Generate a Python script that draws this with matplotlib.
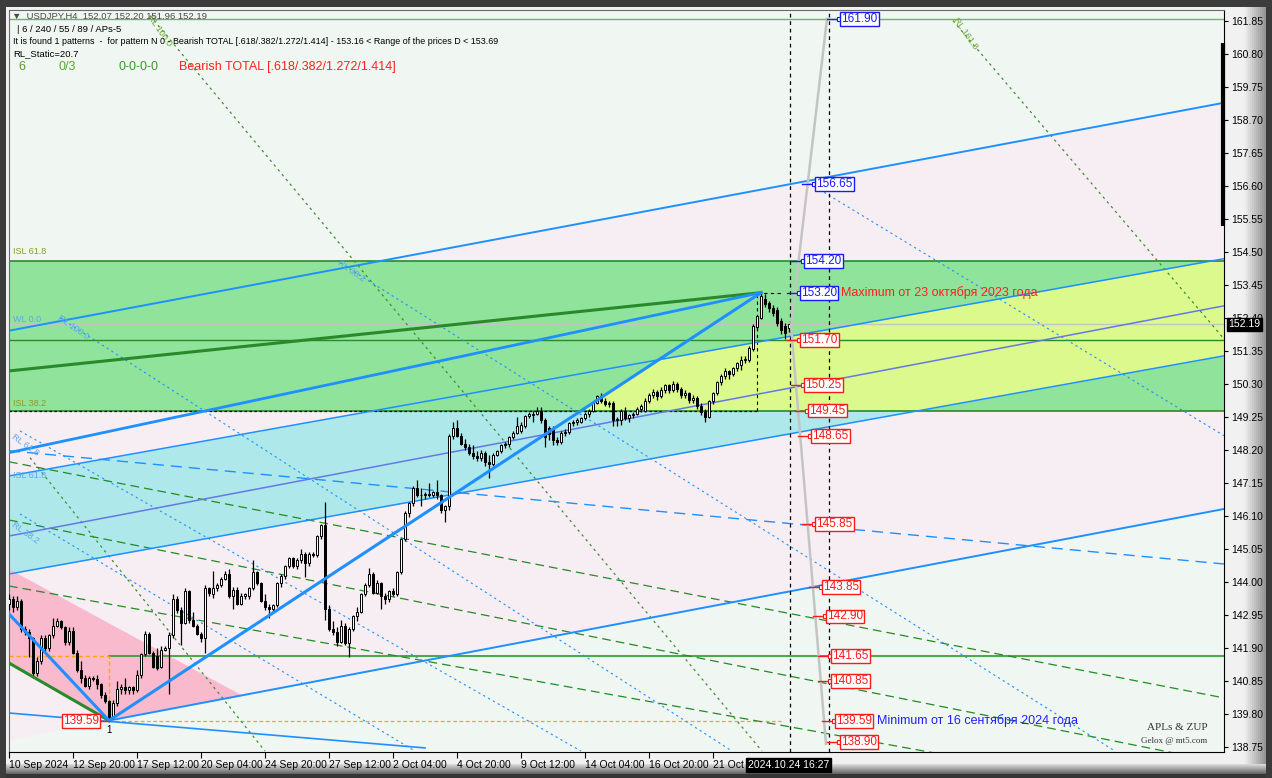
import numpy as np
import matplotlib
matplotlib.use("Agg")
import matplotlib.pyplot as plt
from matplotlib.patches import Rectangle, Polygon

plt.rcParams['font.family'] = ['Liberation Sans', 'DejaVu Sans']

W, H = 1272, 778

# USDJPY H4 candles, bar 1 = 10 Sep 2024 04:00 ... bar 196 = 24 Oct 2024 16:00
opens = [143.30, 143.45, 143.20, 143.40, 142.50, 142.40, 142.20, 141.10, 141.50, 142.20,
         141.90, 142.30, 142.60, 142.75, 142.55, 142.10, 142.45, 141.75, 141.20, 140.95,
         140.70, 140.95, 140.90, 140.75, 140.40, 140.20, 139.70, 140.15, 140.60, 140.65,
         140.55, 140.65, 140.55, 141.05, 141.70, 142.35, 141.75, 141.65, 141.30, 141.85,
         141.90, 142.30, 143.45, 143.10, 142.70, 143.70, 142.80, 142.60, 142.35, 142.20,
         143.80, 143.60, 143.80, 143.90, 144.10, 144.25, 143.55, 143.75, 143.30, 143.55,
         143.55, 143.80, 144.30, 143.95, 143.40, 143.20, 143.15, 143.25, 143.95, 144.20,
         144.50, 144.75, 144.50, 144.70, 144.90, 144.60, 144.90, 144.85, 145.45, 145.80,
         143.15, 142.50, 142.40, 142.10, 142.60, 142.05, 142.50, 142.90, 143.05, 143.60,
         143.90, 144.25, 143.65, 143.95, 143.55, 143.45, 143.70, 143.60, 144.30, 145.35,
         146.20, 146.50, 147.00, 146.75, 146.75, 146.80, 146.75, 146.85, 146.75, 146.30,
         146.40, 148.65, 148.90, 148.65, 148.40, 148.30, 148.10, 148.00, 147.95, 148.10,
         147.80, 147.75, 148.05, 148.15, 148.35, 148.38, 148.60, 148.75, 148.80, 148.95,
         149.28, 149.30, 149.35, 149.45, 149.15, 148.90, 148.90, 148.50, 148.45, 148.75,
         148.78, 149.05, 149.10, 149.10, 149.20, 149.35, 149.45, 149.70, 149.90, 149.75,
         149.65, 149.70, 149.15, 149.15, 149.45, 149.20, 149.30, 149.35, 149.50, 149.45,
         149.75, 149.95, 150.05, 149.90, 150.10, 150.25, 150.10, 150.30, 150.15, 149.95,
         150.00, 149.80, 149.85, 149.60, 149.40, 149.25, 149.75, 150.00, 150.35, 150.55,
         150.70, 150.60, 150.80, 150.90, 151.05, 151.05, 151.42, 152.10, 152.40, 153.00,
         152.88, 152.72, 152.65, 152.30, 152.15, 152.07]
highs = [143.60, 143.55, 143.55, 143.45, 142.60, 142.50, 142.25, 141.60, 142.30, 142.30,
         142.35, 142.85, 142.85, 142.80, 142.60, 142.55, 142.55, 141.85, 141.50, 141.05,
         141.00, 141.00, 141.05, 140.80, 140.50, 140.25, 140.25, 140.85, 140.75, 140.95,
         140.70, 140.70, 141.20, 141.75, 142.45, 142.40, 141.80, 141.90, 141.95, 141.95,
         142.40, 143.60, 143.55, 143.20, 143.80, 143.75, 143.05, 142.65, 142.40, 143.90,
         143.85, 144.35, 143.95, 144.15, 144.35, 144.40, 143.85, 143.85, 143.65, 143.65,
         143.85, 144.70, 144.35, 144.00, 143.60, 143.30, 143.30, 144.00, 144.25, 144.55,
         144.80, 144.80, 144.75, 145.05, 144.95, 144.95, 144.95, 145.50, 145.85, 146.55,
         143.25, 142.75, 142.55, 142.80, 142.70, 142.55, 142.95, 143.20, 143.65, 143.95,
         144.45, 144.30, 144.05, 144.00, 143.65, 143.75, 143.80, 144.35, 145.40, 146.25,
         146.55, 147.05, 147.25, 147.00, 146.85, 147.15, 146.90, 147.25, 146.80, 146.45,
         148.70, 149.10, 149.15, 148.75, 148.55, 148.40, 148.35, 148.15, 148.20, 148.15,
         148.05, 148.10, 148.20, 148.40, 148.45, 148.65, 148.80, 149.25, 149.10, 149.30,
         149.40, 149.45, 149.55, 149.55, 149.20, 148.95, 148.95, 148.60, 148.80, 148.85,
         149.10, 149.15, 149.20, 149.25, 149.40, 149.50, 149.75, 149.95, 150.00, 149.85,
         149.75, 149.75, 149.25, 149.50, 149.55, 149.35, 149.40, 149.55, 149.65, 149.85,
         150.00, 150.15, 150.10, 150.20, 150.30, 150.30, 150.40, 150.35, 150.20, 150.10,
         150.05, 149.95, 149.90, 149.70, 149.50, 149.80, 150.05, 150.40, 150.60, 150.80,
         150.75, 150.85, 151.00, 151.20, 151.20, 151.50, 152.20, 152.50, 153.20, 153.15,
         152.95, 152.80, 152.75, 152.40, 152.25, 152.20]
lows = [143.10, 143.05, 143.10, 142.40, 142.30, 141.60, 140.95, 141.00, 141.40, 141.80,
        141.80, 142.20, 142.55, 142.50, 142.00, 142.00, 141.70, 141.15, 140.80, 140.65,
        140.60, 140.85, 140.60, 140.30, 140.15, 139.59, 139.65, 140.05, 140.45, 140.45,
        140.45, 140.45, 140.50, 140.95, 141.65, 141.70, 141.25, 141.20, 141.25, 141.80,
        140.45, 142.20, 143.00, 142.00, 142.65, 142.70, 142.55, 142.30, 142.10, 141.75,
        143.55, 143.50, 143.70, 143.85, 144.05, 143.50, 143.15, 143.25, 143.25, 143.45,
        143.45, 143.75, 143.90, 143.35, 143.10, 142.85, 143.05, 143.20, 143.85, 144.10,
        144.45, 144.45, 144.40, 144.60, 144.15, 144.50, 144.80, 144.80, 145.35, 142.80,
        142.45, 142.30, 141.95, 142.05, 142.00, 141.60, 142.45, 142.75, 143.00, 143.55,
        143.85, 143.60, 143.60, 143.15, 143.30, 143.35, 143.55, 143.55, 144.25, 145.30,
        146.05, 146.40, 146.70, 146.40, 146.65, 146.70, 146.70, 146.65, 146.20, 145.90,
        146.30, 148.55, 148.60, 148.35, 148.20, 148.05, 147.90, 147.85, 147.85, 147.70,
        147.30, 147.70, 148.00, 148.10, 148.25, 148.30, 148.55, 148.70, 148.75, 148.90,
        149.20, 149.10, 149.30, 149.05, 148.30, 148.50, 148.35, 148.35, 148.40, 148.65,
        148.70, 148.95, 149.00, 149.05, 149.15, 149.25, 149.40, 149.65, 149.70, 149.60,
        149.55, 148.95, 148.95, 149.00, 149.15, 149.10, 149.20, 149.30, 149.40, 149.40,
        149.70, 149.85, 149.80, 149.85, 150.00, 150.00, 150.05, 150.05, 149.85, 149.85,
        149.70, 149.70, 149.50, 149.30, 149.10, 149.20, 149.65, 149.95, 150.25, 150.45,
        150.45, 150.55, 150.70, 150.75, 150.95, 151.00, 151.35, 152.00, 152.35, 152.75,
        152.60, 152.45, 152.15, 151.90, 151.73, 151.96]
closes = [143.45, 143.20, 143.40, 142.50, 142.40, 142.20, 141.10, 141.50, 142.20, 141.90,
          142.30, 142.60, 142.75, 142.55, 142.10, 142.45, 141.75, 141.20, 140.95, 140.70,
          140.95, 140.90, 140.75, 140.40, 140.20, 139.70, 140.15, 140.60, 140.65, 140.55,
          140.65, 140.55, 141.05, 141.70, 142.35, 141.75, 141.30, 141.25, 141.85, 141.90,
          142.30, 143.45, 143.10, 142.70, 143.70, 142.80, 142.60, 142.35, 142.20, 143.80,
          143.65, 143.80, 143.90, 144.10, 144.25, 143.55, 143.75, 143.30, 143.55, 143.60,
          143.80, 144.30, 143.95, 143.40, 143.20, 143.15, 143.25, 143.95, 144.20, 144.50,
          144.75, 144.50, 144.70, 144.90, 144.60, 144.90, 144.85, 145.45, 145.80, 143.15,
          142.50, 142.40, 142.10, 142.60, 142.05, 142.50, 142.90, 143.05, 143.60, 143.90,
          144.25, 143.65, 143.95, 143.55, 143.45, 143.70, 143.60, 144.30, 145.35, 146.20,
          146.50, 147.00, 146.75, 146.75, 146.80, 146.75, 146.85, 146.75, 146.30, 146.40,
          148.65, 148.90, 148.65, 148.40, 148.30, 148.10, 148.00, 147.95, 148.10, 147.80,
          147.75, 148.05, 148.15, 148.35, 148.38, 148.60, 148.75, 148.95, 149.00, 149.28,
          149.35, 149.35, 149.45, 149.15, 148.60, 148.70, 148.50, 148.45, 148.75, 148.78,
          149.05, 149.10, 149.15, 149.20, 149.35, 149.45, 149.70, 149.90, 149.75, 149.65,
          149.70, 149.15, 149.18, 149.45, 149.20, 149.30, 149.35, 149.50, 149.60, 149.75,
          149.95, 150.05, 149.90, 150.10, 150.25, 150.10, 150.30, 150.15, 149.95, 150.00,
          149.80, 149.85, 149.60, 149.40, 149.25, 149.75, 150.00, 150.35, 150.55, 150.70,
          150.60, 150.80, 150.95, 151.05, 151.10, 151.45, 152.15, 152.45, 153.10, 152.85,
          152.70, 152.55, 152.25, 152.00, 151.92, 152.19]

date_ticks = [1, 17, 33, 49, 65, 81, 97, 113, 129, 145, 161, 177]
date_labels = ["10 Sep 2024", "12 Sep 20:00", "17 Sep 12:00", "20 Sep 04:00",
               "24 Sep 20:00", "27 Sep 12:00", "2 Oct 04:00", "4 Oct 20:00",
               "9 Oct 12:00", "14 Oct 04:00", "16 Oct 20:00", "21 Oct 12:00"]
price_ticks = [138.75, 139.80, 140.85, 141.90, 142.95, 144.00, 145.05, 146.10,
               147.15, 148.20, 149.25, 150.30, 151.35, 152.40, 153.45, 154.50,
               155.55, 156.60, 157.65, 158.70, 159.75, 160.80, 161.85]

# pattern / levels
zone_top, zone_bottom = 154.20, 149.45
low_bar, low_price = 26, 139.59
high_bar, high_price = 189, 153.20
bid = 152.19
now_bar, proj_bar = 196.25, 206

lvl_prices = [161.90, 156.65, 154.20, 153.20, 151.70, 150.25, 149.45, 148.65,
              145.85, 143.85, 142.90, 141.65, 140.85, 139.59, 138.90]
lvl_bars = [208.5, 202.25, 199.5, 198.5, 198.5, 199.5, 200.5, 201.25,
            202.25, 204.0, 205.0, 206.25, 206.25, 207.25, 208.5]
lvl_colors = ['#1a1aff'] * 4 + ['#ff1a1a'] * 11

# lines as (bar, price) anchors
ch_upper = [(1.0, 147.37), (304.75, 154.28)]
ch_mid = [(1.0, 145.46), (304.75, 152.78)]
ch_lower = [(1.0, 144.25), (304.75, 151.19)]
ray_top = [(1.0, 151.99), (304.75, 159.24)]
ray_low = [(low_bar, low_price), (304.75, 146.32)]
ray_bottom = [(1.0, 139.83), (105, 138.72)]
zz_blue = [(1.0, 142.98), (low_bar, low_price), (high_bar, high_price)]
xd_blue = [(1.0, 148.11), (high_bar, high_price)]
xd_green = [(1.0, 150.71), (high_bar, high_price)]
xa_green = [(1.0, 141.42), (low_bar, low_price)]
pink_tri = [(1.0, 144.41), (59.5, 140.37), (low_bar, low_price), (1.0, 141.42)]
proj = [(205.5, 161.91), (196.5, 152.15), (205.25, 138.85)]

blue_dash = [(1.0, 148.17), (304.75, 144.57)]
blue_dots = [[(83.75, 154.15), (277.5, 138.62)],
             [(200.0, 156.76), (304.75, 148.65)],
             [(3.75, 146.16), (102.5, 138.62)],
             [(13.75, 152.40), (181.75, 138.62)],
             [(3.75, 148.80), (144.0, 138.62)]]
green_dashes = [[(1.0, 147.82), (304.75, 140.31)],
                [(1.0, 145.97), (304.75, 138.24)],
                [(1.0, 143.87), (304.75, 136.90)]]
green_dots = [[(36.25, 162.01), (189.25, 138.62)],
              [(237.0, 161.85), (304.75, 151.73)],
              [(6.25, 147.95), (65.0, 138.62)]]


def line_at(p0, p1, x):
    (x0, y0), (x1, y1) = p0, p1
    return y0 + (y1 - y0) * (np.asarray(x) - x0) / (x1 - x0)


def seg(pts, **kw):
    xs_, ys_ = zip(*pts)
    ax.plot(xs_, ys_, **kw)


fig = plt.figure(figsize=(W / 100, H / 100), dpi=100, facecolor='#f1f1f1')


def frect(x0, y0, x1, y1, color):
    fig.patches.append(Rectangle((x0 / W, 1 - y1 / H), (x1 - x0) / W, (y1 - y0) / H,
                                 transform=fig.transFigure, facecolor=color,
                                 edgecolor='none', zorder=-5))


# window frame
for k in range(14):
    g = 0.93 - 0.45 * k / 13
    frect(1244 + 2 * k, 0, 1246 + 2 * k, H, (g, g, g))
for k in range(10):
    g = 0.85 - 0.45 * k / 9
    frect(0, 764 + k, W, 765 + k, (g, g, g))
frect(0, 774, W, H, '#353535')
frect(1266, 0, W, H, '#3a3a3a')
frect(0, 0, W, 7, '#3c3c3c')
frect(0, 0, 6, H, '#3c3c3c')

ax = fig.add_axes([9 / W, (H - 752) / H, 1215 / W, 742 / H])
ax.set_facecolor('#f0f6f1')
ax.set_xlim(1.0, 304.75)
ax.set_ylim(138.59, 162.19)

xs = np.linspace(1.0, 304.75, 1500)
up = line_at(*ch_upper, xs)
lo = line_at(*ch_lower, xs)

# background zones
ax.fill_between(xs, line_at(*ray_low, xs), line_at(*ray_top, xs), color='#f7eef3', lw=0, zorder=0)
ax.axhspan(zone_bottom, zone_top, color='#8fe39b', lw=0, zorder=0.5)
leg = line_at((low_bar, low_price), (high_bar, high_price), xs)
leg = np.where(xs > high_bar, 1e3, leg)
leg = np.where(xs < low_bar, -1e3, leg)
y_hi = np.minimum(np.minimum(up, zone_top), leg)
y_lo = np.maximum(lo, zone_bottom)
ax.fill_between(xs, y_lo, y_hi, where=y_hi > y_lo, color='#dbf98c', lw=0, zorder=0.6)
c_hi = np.minimum(up, zone_bottom)
ax.fill_between(xs, lo, c_hi, where=c_hi > lo, color='#aee8ea', lw=0, zorder=0.6)
ax.add_patch(Polygon(pink_tri, closed=True, facecolor='#fab5ca', edgecolor='none', alpha=0.9, zorder=0.7))

# horizontal levels
ax.axhline(161.90, color='#5cbf5c', lw=1, zorder=1)
ax.axhline(zone_top, color='#2a8a2a', lw=1.2, zorder=1)
ax.axhline(zone_bottom, color='#2a8a2a', lw=1.2, zorder=1)
ax.axhline(151.70, color='#2a8a2a', lw=1, zorder=1)
ax.axhline(bid, color='#c4c4c4', lw=1, zorder=1)
ax.plot([low_bar, 304.75], [141.65, 141.65], color='#2a9a2a', lw=1.2, zorder=1)
ax.plot([1.0, low_bar], [141.65, 141.65], color='#ffa500', lw=1, ls=(0, (3, 2)), zorder=1)
ax.plot([low_bar, 194], [low_price, low_price], color='#ffa500', lw=0.9, ls=(0, (3, 2)), zorder=1)
ax.plot([low_bar, low_bar], [low_price, 141.65], color='#ffa500', lw=1, ls=(0, (3, 2)), zorder=1)
ax.plot([1.0, 188], [zone_bottom, zone_bottom], color='black', lw=0.9, ls=(0, (2, 2)), zorder=1.2)
ax.plot([188, 188], [zone_bottom, high_price], color='black', lw=0.8, ls=(0, (3, 3)), zorder=1.2)
ax.plot([188, 194], [high_price, high_price], color='black', lw=0.8, ls=(0, (3, 3)), zorder=1.2)

# dashed / dotted fan lines
for pts in green_dashes:
    seg(pts, color='#238b23', lw=0.9, ls=(0, (7, 4)), zorder=2)
for pts in green_dots:
    seg(pts, color='#3d8f2d', lw=0.9, ls=(0, (2, 3)), zorder=2)
for pts in blue_dots:
    seg(pts, color='#1e90ff', lw=0.8, ls=(0, (2, 3)), zorder=2)
seg(blue_dash, color='#1e90ff', lw=1, ls=(0, (8, 5)), zorder=2)

# channel lines
seg(ch_upper, color='#1e90ff', lw=1.1, zorder=2)
seg(ch_mid, color='#6479e6', lw=1.1, zorder=2)
seg(ch_lower, color='#1e90ff', lw=1.1, zorder=2)
seg(ray_top, color='#1e90ff', lw=1.4, zorder=2)
seg(ray_low, color='#1e90ff', lw=1.4, zorder=2)
seg(ray_bottom, color='#1e90ff', lw=1.2, zorder=2)

# candles
idx = np.arange(1, len(closes) + 1)
o, hi, lw_, c = map(np.array, (opens, highs, lows, closes))
ax.vlines(idx, lw_, hi, color='black', lw=0.9, zorder=3)
bull = c >= o
bot = np.minimum(o, c)
bh = np.maximum(np.abs(c - o), 0.025)
ax.bar(idx[bull], bh[bull], bottom=bot[bull], width=0.6, color='white', edgecolor='black', lw=0.7, zorder=3.5)
ax.bar(idx[~bull], bh[~bull], bottom=bot[~bull], width=0.6, color='black', edgecolor='black', lw=0.7, zorder=3.5)

# pattern lines
seg(xd_green, color='#2a8a2a', lw=2.2, zorder=4)
seg(xa_green, color='#2a8a2a', lw=2.2, zorder=4)
seg(xd_blue, color='#1e90ff', lw=2, zorder=4)
seg(zz_blue, color='#1e90ff', lw=2.2, zorder=4)

# projection
ax.axvline(now_bar, color='black', lw=0.9, ls=(0, (3, 3)), zorder=4)
ax.axvline(proj_bar, color='black', lw=0.9, ls=(0, (3, 3)), zorder=4)
seg(proj, color='#c4c4c4', lw=1.8, zorder=4)

for b, p, col in zip(lvl_bars, lvl_prices, lvl_colors):
    ax.plot([b - 3, b], [p, p], color=col, lw=1, zorder=5)
    ax.plot(b, p, marker='s', ms=3, mfc='white', mec=col, mew=0.8, zorder=5)
    ax.text(b + 0.6, p, f"{p:.2f}", color=col, fontsize=8.5, va='center', ha='left', zorder=6,
            bbox=dict(boxstyle='square,pad=0.08', fc='white', ec=col, lw=1))

ax.text(209.0, high_price, "Maximum от 23 октября 2023 года", color='#ff2020', fontsize=9, va='center', zorder=6)
ax.text(218.0, low_price, "Minimum от 16 сентября 2024 года", color='#2020ff', fontsize=9, va='center', zorder=6)
ax.plot([23.75, low_bar], [low_price, low_price], color='#ff1a1a', lw=1, zorder=5)
ax.text(23.5, low_price, f"{low_price:.2f}", color='#ff1a1a', fontsize=8.5, va='center', ha='right', zorder=6,
        bbox=dict(boxstyle='square,pad=0.08', fc='white', ec='#ff1a1a', lw=1))
ax.text(low_bar, 139.30, "1", fontsize=7, ha='center', va='center', zorder=6)

# small labels on levels / fan lines
ax.text(2.0, 154.50, "ISL 61.8", color='#8a9a2a', fontsize=6.5, va='center', zorder=6)
ax.text(2.0, 149.68, "ISL 38.2", color='#8a9a2a', fontsize=6.5, va='center', zorder=6)
ax.text(2.0, 152.36, "WL 0.0", color='#5aa8f0', fontsize=6.5, va='center', zorder=6)
ax.text(2.0, 147.40, "ISL 61.8", color='#5aa8f0', fontsize=6.5, va='center', zorder=6)
ax.text(38.5, 161.55, "RL 100.0", color='#6aaa3a', fontsize=6.5, rotation=-55, ha='center', va='center', zorder=6)
ax.text(240.0, 161.45, "RL 161.8", color='#6aaa3a', fontsize=6.5, rotation=-55, ha='center', va='center', zorder=6)
ax.text(86.5, 153.90, "RL 38.2", color='#5aa8f0', fontsize=6.5, rotation=-35, ha='center', va='center', zorder=6)
ax.text(17.0, 152.10, "RL 100.0", color='#5aa8f0', fontsize=6.5, rotation=-35, ha='center', va='center', zorder=6)
ax.text(5.0, 148.35, "RL 61.8", color='#5aa8f0', fontsize=6.5, rotation=-35, ha='center', va='center', zorder=6)
ax.text(5.0, 145.55, "RL 38.2", color='#5aa8f0', fontsize=6.5, rotation=-35, ha='center', va='center', zorder=6)

# right scroll marker
ax.plot([304.4, 304.4], [155.33, 161.15], color='black', lw=3, solid_capstyle='butt', clip_on=False, zorder=6)

# axes styling
ax.yaxis.tick_right()
ax.set_yticks(price_ticks)
ax.set_yticklabels([f"{p:.2f}" for p in price_ticks])
ax.set_xticks(date_ticks)
ax.set_xticklabels(date_labels)
plt.setp(ax.get_xticklabels(), ha='left')
ax.tick_params(axis='y', direction='out', length=3, width=0.8, labelsize=7.5, pad=2)
ax.tick_params(axis='x', direction='out', length=4, width=0.8, labelsize=7.5, pad=2)
for s in ('left', 'top'):
    ax.spines[s].set_color('#6a6a6a')
for s in ('right', 'bottom'):
    ax.spines[s].set_color('black')

ax.annotate(f"{bid:.2f}", xy=(1, bid), xycoords=('axes fraction', 'data'), xytext=(3, 0),
            textcoords='offset points', color='white', fontsize=7.5, va='center', ha='left',
            bbox=dict(boxstyle='square,pad=0.15', fc='black', ec='black'), annotation_clip=False, zorder=10)
ax.annotate("2024.10.24 16:27", xy=(185.75, 0), xycoords=('data', 'axes fraction'), xytext=(0, -6),
            textcoords='offset points', color='white', fontsize=7.5, va='top', ha='left',
            bbox=dict(boxstyle='square,pad=0.2', fc='black', ec='black'), annotation_clip=False, zorder=10)


def fx(x):
    return x / W


def fy(y):
    return 1 - y / H


fig.text(fx(12), fy(16), "▼  USDJPY,H4  152.07 152.20 151.96 152.19", fontsize=6.8, color='#4a4a4a', va='center')
fig.text(fx(17), fy(29), "| 6 / 240 / 55 / 89 / APs-5", fontsize=6.8, color='black', va='center')
fig.text(fx(13), fy(42), "It is found 1 patterns  -  for pattern N 0 - Bearish TOTAL [.618/.382/1.272/1.414] - 153.16 < Range of the prices D < 153.69",
         fontsize=6.4, color='black', va='center')
fig.text(fx(13), fy(54), "RL_Static=20.7", fontsize=6.8, color='black', va='center')
fig.text(fx(18), fy(67), "6", fontsize=9, color='#5a9a2a', va='center')
fig.text(fx(59), fy(67), "0/3", fontsize=9, color='#5aaa2a', va='center')
fig.text(fx(119), fy(67), "0-0-0-0", fontsize=9, color='#3a9a2a', va='center')
fig.text(fx(179), fy(67), "Bearish TOTAL [.618/.382/1.272/1.414]", fontsize=9, color='#ff2020', va='center')
fig.text(fx(1147), fy(727), "APLs & ZUP", fontsize=8, family='Liberation Serif', color='#333333', va='center')
fig.text(fx(1141), fy(741), "Gelox @ mt5.com", fontsize=6.5, family='Liberation Serif', color='#333333', va='center')

fig.savefig("out.png", dpi=100, facecolor=fig.get_facecolor())
